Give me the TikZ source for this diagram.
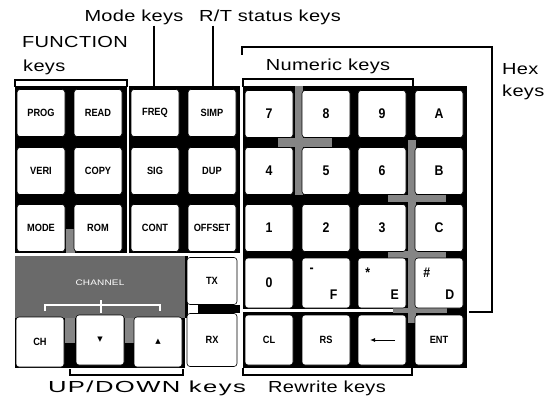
\documentclass[tikz,border=0pt]{standalone}
\usepackage{fontspec}
\setmainfont{Liberation Sans}
\newfontfamily\tagfont{Liberation Sans}[FakeStretch=1.25,LetterSpace=2]
\newfontfamily\widetagfont{Liberation Sans}[FakeStretch=1.6,LetterSpace=9]
\newfontfamily\keyfont{Liberation Sans}[FakeStretch=0.88]
\newfontfamily\symfont{DejaVu Sans}
\usetikzlibrary{arrows.meta,positioning}
\definecolor{chgray}{HTML}{6A6A6A}
\definecolor{bargray}{HTML}{858585}

\begin{document}
\begin{tikzpicture}[x=1pt,y=-1pt,
  keycap/.style={draw=black,fill=white,line width=0.6pt,rounded corners=3pt,
    minimum width=48pt,minimum height=47pt,inner sep=0pt,
    font=\keyfont\bfseries\fontsize{10.5}{11}\selectfont},
  numkey/.style={keycap,font=\keyfont\bfseries\fontsize{14}{15}\selectfont},
  lowkey/.style={keycap,minimum height=50pt},
  hexsub/.style={inner sep=0pt,font=\keyfont\bfseries\fontsize{14}{15}\selectfont},
  tag/.style={inner sep=0pt,font=\fontsize{16}{18}\selectfont\tagfont},
  bracket/.style={line width=1.1pt}]
\useasboundingbox (0,0) rectangle (551,398);
% panels
\fill (15,86) rectangle (127,253);
\fill (129,86) rectangle (240,253);
\fill (243,86) rectangle (467,368);
\fill (15,318) rectangle (185,368);
\fill (185,256) rectangle (188,318);
\fill (198,305) rectangle (240,313);
\fill[white] (243,309) rectangle (395,312);
\node[fill=chgray,minimum width=170pt,minimum height=62pt,inner sep=0pt,anchor=north west] (chpanel) at (15,256) {};
% grey overlay strips
\fill[bargray] (66,229) rectangle (75,253);
\fill[bargray] (65,318) rectangle (75,343);
\fill[bargray] (125,318) rectangle (134,343);
\fill[bargray] (295,86) rectangle (303,195);
\fill[bargray] (278,138) rectangle (332,147);
\fill[bargray] (408,140) rectangle (416,323);
\fill[bargray] (388,195) rectangle (446,202);
\fill[bargray] (388,251) rectangle (446,258);
\fill[bargray] (393,308) rectangle (447,313);
% function and mode keys
\foreach \lbl/\cx/\cy/\nm in {PROG/41/113/prog,READ/98/113/read,FREQ/155/113/freq,SIMP/212/113/simp,
  VERI/41/171/veri,COPY/98/171/copy,SIG/155/171/sig,DUP/212/171/dup,
  MODE/41/228/mode,ROM/98/228/rom,CONT/155/228/cont,OFFSET/212/228/offset}
  \node[keycap] (\nm) at (\cx,\cy) {\lbl};
% numeric and hex keys
\foreach \lbl/\cx/\cy/\nm in {7/269/114/k7,8/326/114/k8,9/382/114/k9,A/439/114/kA,
  4/269/171/k4,5/326/171/k5,6/382/171/k6,B/439/171/kB,
  1/269/228/k1,2/326/228/k2,3/382/228/k3,C/439/228/kC}
  \node[numkey] (\nm) at (\cx,\cy) {\lbl};
\node[numkey,minimum height=50pt] (k0) at (269,283) {0};
\node[lowkey] (kF) at (326,283) {};
\node[lowkey] (kE) at (382,283) {};
\node[lowkey] (kD) at (439,283) {};
\node[hexsub] (dashF) at ([shift={(10,13)}]kF.north west) {-};
\node[hexsub] (letF) at ([shift={(32,37)}]kF.north west) {F};
\node[hexsub] (starE) at ([shift={(10,15)}]kE.north west) {*};
\node[hexsub] (letE) at ([shift={(37,37)}]kE.north west) {E};
\node[hexsub] (hashD) at ([shift={(12,15)}]kD.north west) {\#};
\node[hexsub] (letD) at ([shift={(35,37)}]kD.north west) {D};
% rewrite row
\foreach \lbl/\cx/\nm in {CL/269/kcl,RS/326/krs,/382/kback,ENT/439/kent}
  \node[lowkey] (\nm) at (\cx,340) {\lbl};
\draw[line width=1pt,-{Latex[length=5pt,width=4pt]}] ([xshift=13pt]kback.center) -- ([xshift=-12pt]kback.center);
% channel block
\node[text=white,inner sep=0pt,font=\fontsize{8}{9}\selectfont\tagfont] (chtxt) at (100,283) {CHANNEL};
\coordinate (chmid) at (101,305);
\draw[white,line width=1.2pt] (45,311) -- (45,305) -- (160,305) -- (160,311);
\draw[white,line width=1.2pt] ([yshift=-8pt]chmid) -- ([yshift=5pt]chmid);
\node[lowkey] (kch) at (40,342) {CH};
\node[lowkey,font=\symfont\fontsize{7}{8}\selectfont] (kdown) at (100,340) {▼};
\node[lowkey,font=\symfont\fontsize{7}{8}\selectfont] (kup) at (158,342) {▲};
\node[keycap,minimum width=50pt] (ktx) at (212,281) {TX};
\node[keycap,minimum width=50pt,minimum height=53pt] (krx) at (212,340) {RX};
% labels and brackets
\node[tag,anchor=base] (modetag) at (134,22) {Mode keys};
\node[tag,anchor=base] (rttag) at (270,22) {R/T status keys};
\coordinate (modeend) at (154,86);
\coordinate (rtend) at (213,86);
\draw[bracket] (modetag.south -| modeend) -- (modeend);
\draw[bracket] (rttag.south -| rtend) -- (rtend);
\node[tag,anchor=base west] (functag) at (22,48) {FUNCTION};
\node[tag,anchor=base west] (funckeys) at (23,72) {keys};
\draw[bracket] (15,87) -- (15,80) -- (127,80) -- (127,87);
\node[tag,anchor=base] (numtag) at (328,71) {Numeric keys};
\draw[bracket] (243,87) -- (243,79) -- (413,79) -- (413,86);
\node[tag,anchor=base west] (hextag) at (502,75) {Hex};
\node[tag,anchor=base west] (hexkeys) at (502,97) {keys};
\draw[bracket] (242,55) -- (242,47) -- (492,47) -- (492,312) -- (469,312);
\node[inner sep=0pt,font=\fontsize{16}{18}\selectfont\widetagfont,anchor=base] (updowntag) at (147,392) {UP/DOWN keys};
\draw[bracket] (70,369) -- (70,375) -- (183,375) -- (183,369);
\node[tag,anchor=base] (rewtag) at (327,392) {Rewrite keys};
\draw[bracket] (243,368) -- (243,375) -- (412,375) -- (412,366);
\end{tikzpicture}
\end{document}
